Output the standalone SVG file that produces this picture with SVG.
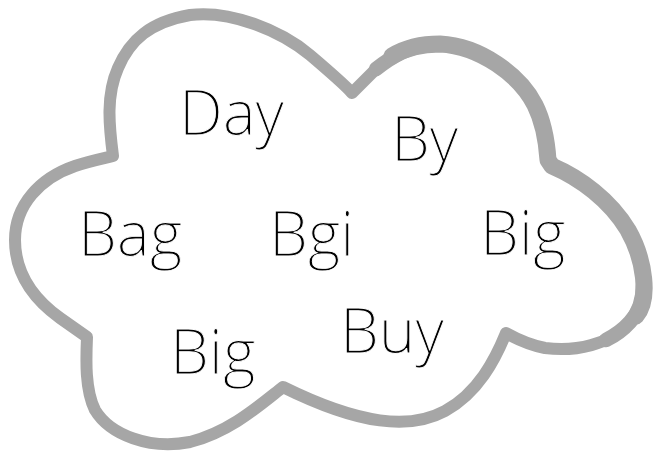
<svg xmlns="http://www.w3.org/2000/svg" width="655" height="453" viewBox="0 0 655 453">
  <style>
    .cloud { fill: #ffffff; stroke: #a6a6a6; stroke-width: 12; stroke-linejoin: round; stroke-linecap: round; }
    .mid { fill: none; stroke: #a6a6a6; stroke-width: 14.5; stroke-linejoin: round; stroke-linecap: round; }
    .thick { fill: none; stroke: #a6a6a6; stroke-width: 17; stroke-linejoin: round; stroke-linecap: round; }
    .word { font-family: "Open Sans Light", "Open Sans", "Noto Sans", "Liberation Sans", sans-serif; font-weight: 300; font-size: 62px; fill: #000000; stroke: #ffffff; stroke-width: 0.9px; paint-order: fill stroke; }
  </style>
  <rect width="655" height="453" fill="#ffffff"/>
  <g id="cloud">
    <path class="cloud" d="M113,156 C109,125 106,95 118,68 C130,40 150,22 190,15 C230,10 280,30 310,55 C330,72 345,85 352,93 L373,72 C390,58 410,44 440,44 C480,46 520,75 535,105 C545,125 547,145 548,160 L552,166 C580,178 610,200 628,230 C645,260 650,300 630,322 C610,345 575,352 545,348 C530,345 515,338 506,333 C495,360 478,393 445,411 C410,430 360,425 283,387 C260,405 230,432 190,442 C150,450 110,435 95,410 C85,390 86,360 87,337 L60,318 C35,300 15,275 15,240 C15,205 40,178 75,166 C90,161 105,158 113,156 Z"/>
    <path class="mid" d="M376,69 C390,58 410,44 440,44 C480,46 520,75 535,105 C545,125 547,145 548,160 L552,166 C580,178 610,200 628,230 C645,260 650,300 630,322 C622,331 614,336 606,340"/>
    <path class="thick" d="M392,56 C405,48 420,44 440,44 C480,46 520,75 535,105 C545,125 547,145 548,160 L552,166 C580,178 610,200 628,230 C645,260 650,300 636,316"/>
  </g>
  <g id="word-day"><text class="word" x="179" y="135">Day</text></g>
  <g id="word-by"><text class="word" x="391" y="161">By</text></g>
  <g id="word-bag"><text class="word" x="78" y="256">Bag</text></g>
  <g id="word-bgi"><text class="word" x="269" y="256">Bgi</text></g>
  <g id="word-big-right"><text class="word" x="480" y="255">Big</text></g>
  <g id="word-big-bottom"><text class="word" x="170" y="374">Big</text></g>
  <g id="word-buy"><text class="word" x="340" y="353">Buy</text></g>
</svg>
